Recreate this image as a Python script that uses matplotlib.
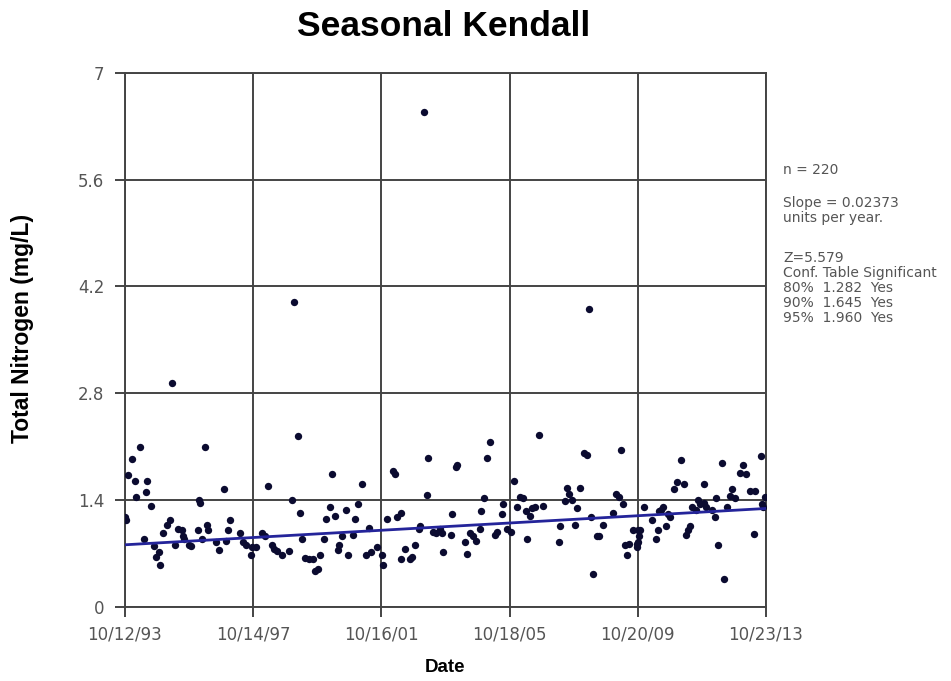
import numpy as np
import matplotlib.pyplot as plt
from datetime import date

plt.rcParams['font.family'] = ['Liberation Sans', 'DejaVu Sans']

# sample dates as decimal years, total nitrogen (mg/L)
years = [
    1993.78, 1993.81, 1993.87, 1994.00, 1994.09, 1994.12, 1994.25, 1994.37, 1994.44, 1994.47,
    1994.59, 1994.69, 1994.75, 1994.84, 1994.86, 1994.97, 1995.09, 1995.19, 1995.25, 1995.35,
    1995.44, 1995.56, 1995.60, 1995.63, 1995.78, 1995.85, 1996.06, 1996.08, 1996.13, 1996.19,
    1996.28, 1996.35, 1996.38, 1996.63, 1996.72, 1996.88, 1996.94, 1997.00, 1997.07, 1997.38,
    1997.47, 1997.57, 1997.72, 1997.76, 1997.88, 1998.07, 1998.16, 1998.26, 1998.38, 1998.44,
    1998.54, 1998.69, 1998.91, 1999.01, 1999.07, 1999.19, 1999.26, 1999.32, 1999.41, 1999.54,
    1999.66, 1999.73, 1999.82, 1999.88, 2000.01, 2000.07, 2000.17, 2000.26, 2000.35, 2000.42,
    2000.48, 2000.57, 2000.67, 2000.76, 2000.89, 2000.98, 2001.07, 2001.17, 2001.32, 2001.39,
    2001.45, 2001.64, 2001.82, 2001.84, 2001.98, 2002.14, 2002.20, 2002.29, 2002.39, 2002.40,
    2002.54, 2002.67, 2002.76, 2002.83, 2002.95, 2003.01, 2003.11, 2003.20, 2003.26, 2003.39,
    2003.51, 2003.61, 2003.67, 2003.73, 2003.95, 2004.01, 2004.11, 2004.14, 2004.39, 2004.45,
    2004.55, 2004.64, 2004.74, 2004.86, 2004.89, 2004.99, 2005.08, 2005.17, 2005.33, 2005.39,
    2005.55, 2005.58, 2005.71, 2005.83, 2005.92, 2006.02, 2006.11, 2006.21, 2006.30, 2006.33,
    2006.43, 2006.49, 2006.58, 2006.71, 2006.83, 2007.33, 2007.36, 2007.52, 2007.58, 2007.65,
    2007.74, 2007.83, 2007.90, 2007.99, 2008.12, 2008.21, 2008.27, 2008.33, 2008.40, 2008.52,
    2008.58, 2008.71, 2009.02, 2009.12, 2009.21, 2009.27, 2009.34, 2009.40, 2009.46, 2009.52,
    2009.65, 2009.77, 2009.78, 2009.81, 2009.82, 2009.83, 2009.87, 2009.99, 2010.24, 2010.37,
    2010.43, 2010.46, 2010.53, 2010.59, 2010.68, 2010.74, 2010.81, 2010.93, 2011.03, 2011.15,
    2011.25, 2011.31, 2011.37, 2011.43, 2011.50, 2011.62, 2011.68, 2011.75, 2011.87, 2011.88,
    2011.93, 2012.12, 2012.22, 2012.25, 2012.31, 2012.43, 2012.50, 2012.59, 2012.68, 2012.74,
    2012.83, 2012.99, 2013.08, 2013.18, 2013.30, 2013.43, 2013.46, 2013.65, 2013.68, 2013.71,
    2013.78,
]
tn = [
    1.19, 1.15, 1.73, 1.94, 1.66, 1.45, 2.10, 0.90, 1.51, 1.65,
    1.33, 0.81, 0.66, 0.72, 0.56, 0.98, 1.08, 1.15, 2.94, 0.82,
    1.03, 1.02, 0.94, 0.90, 0.82, 0.81, 1.01, 1.41, 1.37, 0.89,
    2.10, 1.08, 1.02, 0.86, 0.75, 1.55, 0.87, 1.02, 1.14, 0.97,
    0.85, 0.82, 0.69, 0.79, 0.79, 0.97, 0.94, 1.59, 0.82, 0.77,
    0.74, 0.68, 0.74, 1.40, 4.00, 2.24, 1.24, 0.89, 0.65, 0.64,
    0.64, 0.48, 0.50, 0.69, 0.90, 1.16, 1.31, 1.74, 1.20, 0.75,
    0.82, 0.94, 1.28, 0.69, 0.95, 1.16, 1.35, 1.62, 0.69, 1.04,
    0.73, 0.79, 0.68, 0.56, 1.16, 1.78, 1.74, 1.19, 1.23, 0.64,
    0.77, 0.64, 0.66, 0.82, 1.03, 1.06, 6.48, 1.47, 1.95, 0.99,
    0.98, 1.03, 0.98, 0.73, 0.95, 1.22, 1.84, 1.86, 0.85, 0.70,
    0.98, 0.93, 0.87, 1.03, 1.26, 1.43, 1.95, 2.17, 0.95, 0.99,
    1.22, 1.35, 1.03, 0.99, 1.65, 1.31, 1.45, 1.43, 1.26, 0.90,
    1.20, 1.30, 1.32, 2.26, 1.33, 0.85, 1.06, 1.39, 1.56, 1.49,
    1.41, 1.08, 1.30, 1.56, 2.02, 1.99, 3.91, 1.19, 0.44, 0.93,
    0.93, 1.08, 1.23, 1.48, 1.44, 2.06, 1.35, 0.82, 0.68, 0.83,
    1.01, 0.79, 0.83, 0.86, 1.01, 0.93, 1.01, 1.32, 1.15, 0.90,
    1.01, 1.26, 1.27, 1.32, 1.06, 1.22, 1.19, 1.55, 1.64, 1.93,
    1.61, 0.95, 1.01, 1.06, 1.31, 1.28, 1.40, 1.35, 1.37, 1.61,
    1.32, 1.27, 1.19, 1.43, 0.82, 1.89, 0.37, 1.32, 1.46, 1.55,
    1.43, 1.76, 1.87, 1.75, 1.53, 0.96, 1.53, 1.98, 1.35, 1.31,
    1.45,
]

tick_dates = [date(1993, 10, 12), date(1997, 10, 14), date(2001, 10, 16),
              date(2005, 10, 18), date(2009, 10, 20), date(2013, 10, 23)]
tick_labels = ['10/12/93', '10/14/97', '10/16/01', '10/18/05', '10/20/09', '10/23/13']
y_ticks = [0, 1.4, 2.8, 4.2, 5.6, 7]
y_labels = ['0', '1.4', '2.8', '4.2', '5.6', '7']

trend_start = 0.82     # trend value at first date
sen_slope = 0.02373    # units per year

stats_lines = ['n = 220', 'Slope = 0.02373', 'units per year.',
               'Z=5.579', 'Conf. Table Significant',
               '80%  1.282  Yes', '90%  1.645  Yes', '95%  1.960  Yes']
stats_gaps = [0, 33, 15, 40, 15, 15, 15, 15]   # pixel gaps between lines


def dec_year(d):
    start = date(d.year, 1, 1)
    n_days = (date(d.year + 1, 1, 1) - start).days
    return d.year + (d - start).days / n_days


tick_pos = [dec_year(d) for d in tick_dates]

fig = plt.figure(figsize=(9.51, 6.81), dpi=100)
ax = fig.add_axes([0.1314, 0.108, 0.6741, 0.7855])

ax.scatter(years, tn, s=28, color='#0b0b30', zorder=3, linewidths=0)

x_line = np.array([tick_pos[0], tick_pos[-1]])
y_line = trend_start + sen_slope * (x_line - tick_pos[0])
ax.plot(x_line, y_line, color='#24249a', lw=2, zorder=4)

ax.set_xlim(tick_pos[0], tick_pos[-1])
ax.set_ylim(0, 7)
ax.set_xticks(tick_pos)
ax.set_xticklabels(tick_labels)
ax.set_yticks(y_ticks)
ax.set_yticklabels(y_labels)
ax.tick_params(direction='out', length=7, width=1.4, color='#444444',
               labelsize=12, labelcolor='#555555', pad=6)
ax.tick_params(axis='y', pad=8)
for lab in ax.get_xticklabels() + ax.get_yticklabels():
    lab.set_family('DejaVu Sans')
ax.grid(True, color='#444444', lw=1.4)
ax.set_axisbelow(True)
for sp in ax.spines.values():
    sp.set_color('#444444')
    sp.set_linewidth(1.4)

fig.text(445 / 951, 1 - 668 / 681, 'Date', fontsize=13.5, fontweight='bold',
         ha='center', va='center')
fig.text(22.5 / 951, 1 - 328 / 681, 'Total Nitrogen (mg/L)', fontsize=16.5,
         fontweight='bold', rotation=90, ha='center', va='center')
fig.text(444 / 951, 1 - 26 / 681, 'Seasonal Kendall', fontsize=25.5,
         fontweight='bold', ha='center', va='center')

y = 170
for line, gap in zip(stats_lines, stats_gaps):
    y += gap
    fig.text(783 / 951, 1 - y / 681, line, fontsize=10, family='DejaVu Sans',
             color='#555555', va='center', ha='left')

fig.savefig('out.png', dpi=100)
